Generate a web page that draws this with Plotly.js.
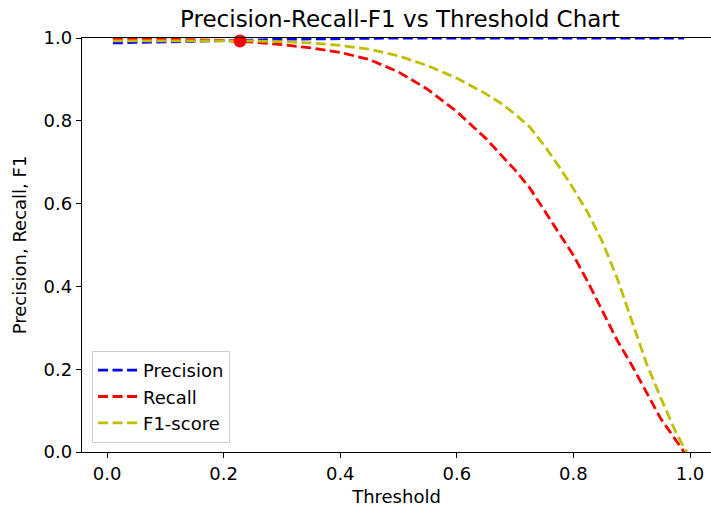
<!DOCTYPE html>
<html>
<head>
<meta charset="utf-8">
<script src="https://cdn.plot.ly/plotly-3.0.1.min.js"></script>
<style>html,body{margin:0;padding:0;background:#fff;}#chart{width:711px;height:510px;}</style>
</head>
<body>
<div id="chart"></div>
<script>
const thresholds = [0.01, 0.05, 0.1, 0.15, 0.2, 0.25, 0.3, 0.35, 0.4, 0.45, 0.5, 0.55, 0.6, 0.65, 0.675, 0.7, 0.725, 0.75, 0.775, 0.8, 0.825, 0.85, 0.875, 0.9, 0.925, 0.95, 0.975, 0.99];
const precision = [0.988, 0.989, 0.990, 0.991, 0.993, 0.995, 0.997, 0.998, 0.999, 1.0, 1.0, 1.0, 1.0, 1.0, 1.0, 1.0, 1.0, 1.0, 1.0, 1.0, 1.0, 1.0, 1.0, 1.0, 1.0, 1.0, 1.0, 1.0];
const recall = [0.998, 0.998, 0.997, 0.996, 0.994, 0.990, 0.984, 0.976, 0.965, 0.948, 0.918, 0.876, 0.822, 0.757, 0.720, 0.681, 0.638, 0.584, 0.532, 0.475, 0.410, 0.340, 0.270, 0.210, 0.145, 0.080, 0.030, 0.0];
const f1Thresholds = [0.01, 0.05, 0.1, 0.15, 0.2, 0.25, 0.3, 0.35, 0.4, 0.45, 0.5, 0.55, 0.6, 0.65, 0.675, 0.7, 0.725, 0.75, 0.775, 0.8, 0.825, 0.85, 0.875, 0.9, 0.925, 0.95, 0.975, 0.99, 0.995];
const f1 = [0.993, 0.993, 0.994, 0.994, 0.994, 0.993, 0.991, 0.988, 0.982, 0.973, 0.957, 0.933, 0.903, 0.865, 0.843, 0.816, 0.785, 0.740, 0.690, 0.636, 0.577, 0.507, 0.420, 0.320, 0.215, 0.130, 0.050, 0.010, 0.0];
const bestThreshold = [0.228];
const bestValue = [0.993];
const seriesNames = ["Precision", "Recall", "F1-score"];

const dash = "10px,4.5px";
const font = "DejaVu Sans, sans-serif";
const traces = [
  {x: thresholds, y: precision, name: seriesNames[0], legendgroup: "p", mode: "lines", line: {color: "#0000ff", width: 2.8, dash: dash}},
  {x: thresholds, y: recall, name: seriesNames[1], legendgroup: "r", mode: "lines", line: {color: "#ff0000", width: 2.8, dash: dash}},
  {x: f1Thresholds, y: f1, name: seriesNames[2], legendgroup: "f", mode: "lines", line: {color: "#bfbf00", width: 2.8, dash: dash}},
  {x: bestThreshold, y: bestValue, mode: "markers", showlegend: false, marker: {color: "#ff0000", size: 13}, cliponaxis: false}
];
const layout = {
  width: 711, height: 510,
  margin: {l: 82, r: 0, t: 38, b: 58},
  paper_bgcolor: "#fff", plot_bgcolor: "#fff",
  font: {family: font, size: 18, color: "#000"},
  title: {text: "Precision-Recall-F1 vs Threshold Chart", font: {family: font, size: 23, color: "#000"}, x: 0.5625, xanchor: "center", y: 0.962, yanchor: "middle"},
  xaxis: {
    range: [-0.043, 1.036], tickvals: [0, 0.2, 0.4, 0.6, 0.8, 1.0], ticktext: ["0.0", "0.2", "0.4", "0.6", "0.8", "1.0"],
    ticks: "outside", ticklen: 5, tickwidth: 1, tickcolor: "#000", tickfont: {family: font, size: 18},
    showline: true, linecolor: "#000", linewidth: 1.2, mirror: true, showgrid: false, zeroline: false,
    title: {text: "Threshold", font: {family: font, size: 18}, standoff: 7}
  },
  yaxis: {
    range: [0, 1], tickvals: [0, 0.2, 0.4, 0.6, 0.8, 1.0], ticktext: ["0.0", "0.2", "0.4", "0.6", "0.8", "1.0"],
    ticks: "outside", ticklen: 5, tickwidth: 1, tickcolor: "#000", tickfont: {family: font, size: 18},
    showline: true, linecolor: "#000", linewidth: 1.2, showgrid: false, zeroline: false,
    title: {text: "Precision, Recall, F1", font: {family: font, size: 18}, standoff: 12}
  },
  legend: {x: 0.016, y: 0.022, xanchor: "left", yanchor: "bottom", bgcolor: "rgba(255,255,255,0.8)", bordercolor: "#cccccc", borderwidth: 1, font: {family: font, size: 18}, tracegroupgap: 0, itemwidth: 40}
};
Plotly.newPlot("chart", traces, layout, {displayModeBar: false, staticPlot: true});
</script>
</body>
</html>
